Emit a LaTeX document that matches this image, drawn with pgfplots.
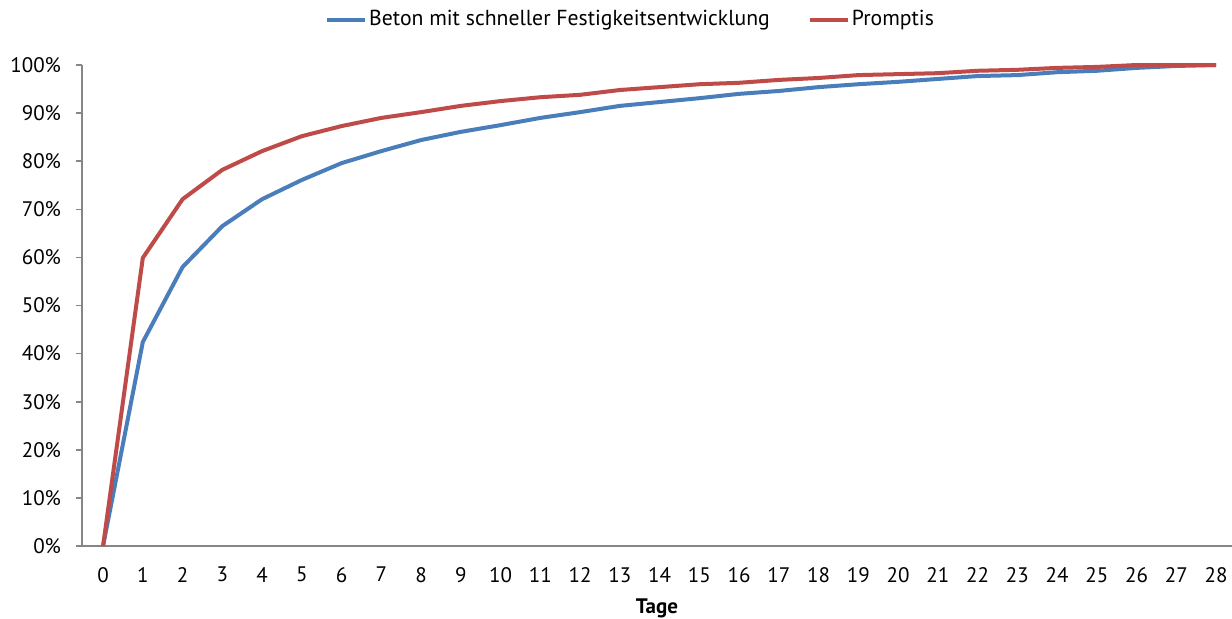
\documentclass[border=0pt]{standalone}
\usepackage{fontspec}
\setmainfont{PT Sans}
\usepackage{pgfplots}
\pgfplotsset{compat=1.18}
\definecolor{cblue}{HTML}{4A7EBB}
\definecolor{cred}{HTML}{BE4B48}
\definecolor{axgray}{HTML}{868686}
\begin{document}
\begin{tikzpicture}
\useasboundingbox (-41pt,-36pt) rectangle (575pt,273pt);
\begin{axis}[
  scale only axis,
  width=575pt, height=240.5pt,
  xmin=-0.53, xmax=28.4,
  ymin=0, ymax=100,
  axis x line*=bottom, axis y line*=left,
  axis line style={axgray, line width=0.8pt},
  xtick={0,...,28}, xtick style={draw=none},
  ytick={0,10,...,100},
  y tick style={axgray, line width=0.8pt},
  tick align=outside, major tick length=3pt,
  yticklabel={\pgfmathprintnumber{\tick}\%},
  /pgf/number format/assume math mode=true,
  tick label style={font=\fontsize{10.5}{12}\selectfont, black},
  xticklabel style={yshift=-4pt},
  yticklabel style={xshift=-4pt},
  xlabel={\textbf{Tage}},
  xlabel style={font=\fontsize{10.5}{12}\selectfont, yshift=-1.5pt},
  legend columns=2,
  legend style={at={(0.477,1.094)}, anchor=center, draw=none, fill=none,
    font=\fontsize{10.85}{12}\selectfont, /tikz/every even column/.append style={column sep=18pt},
    nodes={inner xsep=1pt}},
  legend image code/.code={\draw[#1, line width=2pt] (0pt,0pt) -- (19pt,0pt);},
  clip=false,
]
\addplot[cblue, line width=2pt] coordinates {
(0,0) (1,42.4) (2,58.0) (3,66.5) (4,72.1) (5,76.1) (6,79.6) (7,82.1) (8,84.4) (9,86.1)
(10,87.5) (11,89.0) (12,90.2) (13,91.5) (14,92.3) (15,93.1) (16,94.0) (17,94.6) (18,95.4)
(19,96.0) (20,96.5) (21,97.1) (22,97.7) (23,97.9) (24,98.5) (25,98.8) (26,99.4) (27,99.8) (28,100)
};
\addlegendentry{Beton mit schneller Festigkeitsentwicklung}
\addplot[cred, line width=2pt] coordinates {
(0,0) (1,59.9) (2,72.1) (3,78.2) (4,82.1) (5,85.2) (6,87.3) (7,89.0) (8,90.2) (9,91.5)
(10,92.5) (11,93.3) (12,93.8) (13,94.8) (14,95.4) (15,96.0) (16,96.3) (17,96.9) (18,97.3)
(19,97.9) (20,98.1) (21,98.3) (22,98.8) (23,99.0) (24,99.4) (25,99.6) (26,100) (27,100) (28,100)
};
\addlegendentry{Promptis}
\end{axis}
\end{tikzpicture}
\end{document}
